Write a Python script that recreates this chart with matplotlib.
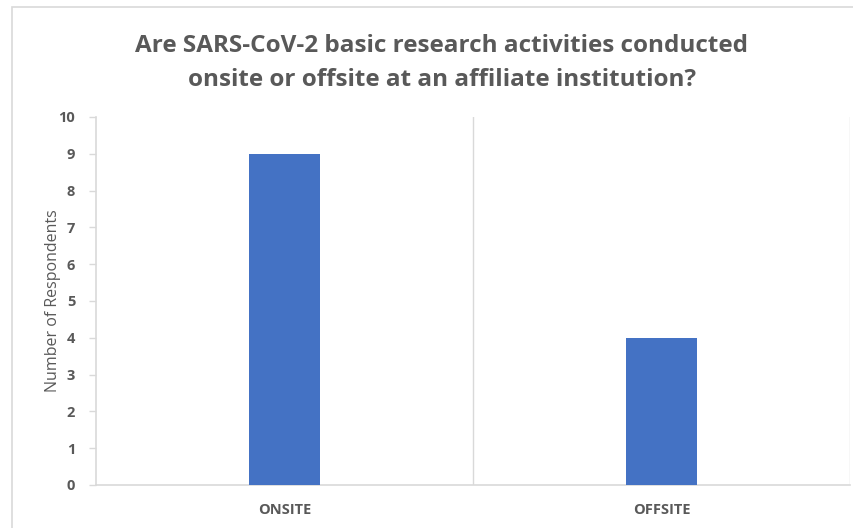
import matplotlib
matplotlib.use("Agg")
import matplotlib.pyplot as plt
from matplotlib.patches import Rectangle
from matplotlib.ticker import FixedLocator

categories = ["ONSITE", "OFFSITE"]
respondents = [9, 4]
y_ticks = list(range(0, 11))

grey = "#595959"
line_grey = "#d9d9d9"
fam = ["Open Sans", "DejaVu Sans"]

fig = plt.figure(figsize=(8.54, 5.28), dpi=100)
fig.patch.set_facecolor("white")

# chart frame
fig.patches.append(Rectangle((12/854, -0.1), 1.0, (528-7)/528 + 0.1, transform=fig.transFigure,
                             fill=False, edgecolor=line_grey, linewidth=1.2))

ax = fig.add_axes([96/854, (528-485)/528, (850-96)/854, (485-117)/528])
x = list(range(len(categories)))
ax.bar(x, respondents, width=0.186, color="#4472C4", zorder=3)

ax.set_xlim(-0.5, len(categories) - 0.5)
ax.set_ylim(0, 10)
ax.set_yticks(y_ticks)
ax.set_yticklabels([str(t) for t in y_ticks], fontsize=10.5, fontweight="bold", color=grey,
                   family=fam)
ax.set_xticks(x)
ax.set_xticklabels(categories, fontsize=10.5, fontweight="bold", color=grey, family=fam)
ax.xaxis.set_minor_locator(FixedLocator([0.5, 1.5]))
ax.grid(True, which="minor", axis="x", color=line_grey, linewidth=1.0, zorder=0)
ax.tick_params(axis="x", which="both", length=0, pad=13)
ax.tick_params(axis="y", length=5, width=1, color=line_grey, pad=10)

for s in ["top", "right"]:
    ax.spines[s].set_visible(False)
for s in ["left", "bottom"]:
    ax.spines[s].set_color(line_grey)
    ax.spines[s].set_linewidth(1.2)

ax.set_ylabel("Number of Respondents", fontsize=11.5, color=grey, family=fam)
ax.yaxis.set_label_coords(-0.047, 0.5)

fig.text(442/854, 1 - 63/528,
         "Are SARS-CoV-2 basic research activities conducted\nonsite or offsite at an affiliate institution?",
         ha="center", va="center", fontsize=17.5, fontweight="bold", color=grey,
         family=fam, linespacing=1.6)

fig.savefig("out.png", dpi=100, facecolor="white")
